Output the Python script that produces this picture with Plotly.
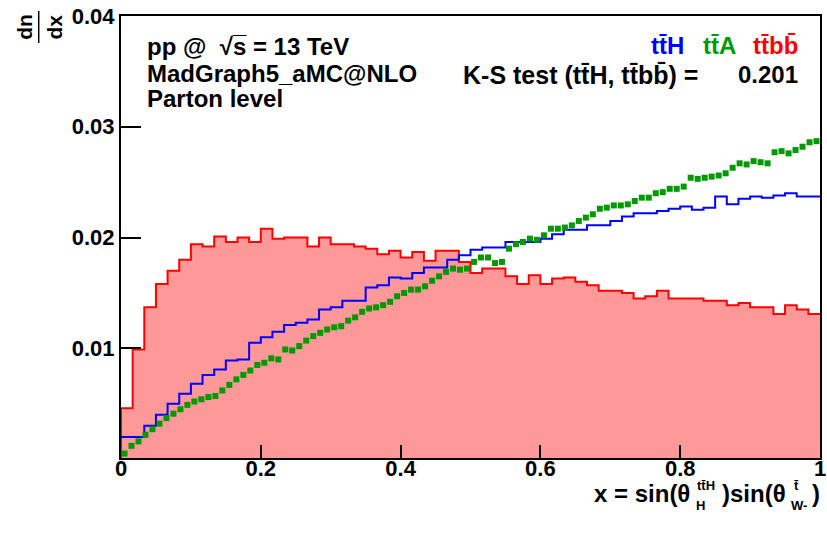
import numpy as np
import plotly.graph_objects as go

# ---------------- data ----------------
bin_edges = np.linspace(0.0, 1.0, 61)          # 60 bins for ttH / ttbb
ttbb = [0.0046, 0.0099, 0.0137, 0.0158, 0.0170, 0.0180, 0.0194, 0.0192, 0.0201, 0.0196,
        0.0200, 0.0196, 0.0208, 0.0199, 0.0200, 0.0200, 0.0192, 0.0200, 0.0194, 0.0194,
        0.0192, 0.0190, 0.0185, 0.0188, 0.0182, 0.0187, 0.0179, 0.0188, 0.0188, 0.0178,
        0.0168, 0.0172, 0.0172, 0.0165, 0.0158, 0.0166, 0.0158, 0.0163, 0.0164, 0.0160,
        0.0157, 0.0152, 0.0152, 0.0150, 0.0145, 0.0147, 0.0152, 0.0145, 0.0145, 0.0145,
        0.0143, 0.0143, 0.0139, 0.0141, 0.0137, 0.0137, 0.0131, 0.0139, 0.0135, 0.0131]
tth = [0.0020, 0.0020, 0.0030, 0.0040, 0.0050, 0.0059, 0.0068, 0.0076, 0.0081, 0.0089,
       0.0090, 0.0105, 0.0110, 0.0115, 0.0121, 0.0123, 0.0126, 0.0135, 0.0137, 0.0143,
       0.0143, 0.0155, 0.0157, 0.0164, 0.0163, 0.0168, 0.0173, 0.0173, 0.0180, 0.0184,
       0.0189, 0.0191, 0.0191, 0.0196, 0.0196, 0.0196, 0.0199, 0.0203, 0.0207, 0.0207,
       0.0211, 0.0211, 0.0215, 0.0219, 0.0222, 0.0222, 0.0224, 0.0226, 0.0228, 0.0225,
       0.0227, 0.0237, 0.0230, 0.0235, 0.0237, 0.0236, 0.0238, 0.0240, 0.0237, 0.0237]
tta_x = np.linspace(0.005, 0.995, 100)         # 100 bin centres for ttA
tta = [0.0005, 0.0012, 0.0016, 0.0022, 0.0027, 0.0032, 0.0037, 0.0041, 0.0045, 0.0049,
       0.0052, 0.0054, 0.0056, 0.0057, 0.0062, 0.0067, 0.0072, 0.0076, 0.0080, 0.0085,
       0.0087, 0.0091, 0.0090, 0.0099, 0.0098, 0.0102, 0.0107, 0.0111, 0.0114, 0.0117,
       0.0119, 0.0120, 0.0125, 0.0128, 0.0133, 0.0136, 0.0137, 0.0139, 0.0142, 0.0147,
       0.0150, 0.0153, 0.0153, 0.0156, 0.0161, 0.0165, 0.0169, 0.0172, 0.0171, 0.0172,
       0.0178, 0.0182, 0.0182, 0.0177, 0.0178, 0.0190, 0.0194, 0.0196, 0.0199, 0.0198,
       0.0202, 0.0208, 0.0208, 0.0209, 0.0211, 0.0215, 0.0218, 0.0221, 0.0226, 0.0227,
       0.0229, 0.0229, 0.0230, 0.0233, 0.0236, 0.0236, 0.0240, 0.0241, 0.0244, 0.0244,
       0.0246, 0.0254, 0.0253, 0.0254, 0.0255, 0.0256, 0.0258, 0.0263, 0.0267, 0.0266,
       0.0269, 0.0268, 0.0267, 0.0277, 0.0278, 0.0276, 0.0279, 0.0282, 0.0286, 0.0287]
x_tickvals = [0, 0.2, 0.4, 0.6, 0.8, 1.0]
x_ticktext = ["0", "0.2", "0.4", "0.6", "0.8", "1"]
y_tickvals = [0.01, 0.02, 0.03, 0.04]
y_ticktext = ["0.01", "0.02", "0.03", "0.04"]

# ---------------- style ----------------
W, H = 827, 536
L, R, T, B = 121, 1, 16, 78
FONT = "Liberation Sans"
RED, BLUE, GREEN = "rgb(255,0,0)", "rgb(0,0,255)", "rgb(0,153,0)"
FILL = "rgb(255,153,153)"
TB = "t" + "t\u0304"      # t tbar
BB = "b" + "b\u0304"      # b bbar

def px(xp, yp):
    return (xp - L) / (W - L - R), (H - B - yp) / (H - T - B)

fig = go.Figure()
fig.add_trace(go.Scatter(
    x=np.concatenate([[bin_edges[0]], bin_edges]),
    y=[0.0] + ttbb + [ttbb[-1]],
    mode="lines", line=dict(color=RED, width=2, shape="hv"),
    fill="tozeroy", fillcolor=FILL, hoverinfo="skip", showlegend=False))
fig.add_trace(go.Scatter(
    x=bin_edges, y=tth + [tth[-1]],
    mode="lines", line=dict(color=BLUE, width=2, shape="hv"),
    hoverinfo="skip", showlegend=False))
fig.add_trace(go.Scatter(
    x=tta_x, y=tta, mode="markers",
    marker=dict(symbol="square", size=6, color=GREEN, line=dict(width=0)),
    hoverinfo="skip", showlegend=False))

annots = []
def txt(s, xp, yp, size=24, color="black", xanchor="left", angle=0):
    ax, ay = px(xp, yp)
    annots.append(dict(text="<b>" + s + "</b>", x=ax, y=ay, xref="paper", yref="paper",
                       xanchor=xanchor, yanchor="middle", showarrow=False, textangle=angle,
                       borderpad=0, font=dict(family=FONT, size=size, color=color)))

txt("pp @  \u221As\u0305 = 13 TeV", 146, 47)
txt("MadGraph5_aMC@NLO", 146, 73)
txt("Parton level", 146, 98)
txt(TB + "H", 690, 46, color=BLUE, xanchor="right")
txt(TB + "A", 742, 46, color=GREEN, xanchor="right")
txt(TB + BB, 805, 46, color=RED, xanchor="right")
txt("K-S test (" + TB + "H, " + TB + BB + ") =", 465, 75, size=25)
txt("0.201", 805, 75, xanchor="right")

# y-axis title: rotated fraction dn/dx
txt("dn", 23, 27, size=21, xanchor="center", angle=-90)
txt("dx", 53, 27, size=21, xanchor="center", angle=-90)

# x-axis title pieces
txt("x = sin(\u03b8", 597, 493, size=24)
txt(TB + "H", 701, 485, size=13)
txt("H", 700, 505, size=13)
txt(")sin(\u03b8", 726, 493, size=24)
txt("t\u0304", 799, 485, size=13)
txt("W-", 796, 505, size=13)
txt(")", 817, 493, size=24)

shapes = [dict(type="line", xref="paper", yref="paper",
               x0=px(38, 0)[0], x1=px(38, 0)[0], y0=px(0, 11)[1], y1=px(0, 43)[1],
               line=dict(color="black", width=1.5))]

fig.update_layout(
    width=W, height=H, margin=dict(l=L, r=R, t=T, b=B, pad=0),
    paper_bgcolor="white", plot_bgcolor="white",
    annotations=annots, shapes=shapes,
    xaxis=dict(range=[0, 1], tickvals=x_tickvals, ticktext=x_ticktext,
               ticks="inside", ticklen=13, tickwidth=1.5, tickcolor="black",
               showline=True, linewidth=2, linecolor="black", mirror=True,
               showgrid=False, zeroline=False, ticklabelstandoff=-10,
               ticklabeloverflow="allow",
               tickfont=dict(family=FONT, size=22, color="black", weight="bold")),
    yaxis=dict(range=[0.0001, 0.04], tickvals=y_tickvals, ticktext=y_ticktext,
               ticks="inside", ticklen=20, tickwidth=1.5, tickcolor="black",
               showline=True, linewidth=2, linecolor="black", mirror=True,
               showgrid=False, zeroline=False,
               tickfont=dict(family=FONT, size=22, color="black", weight="bold")),
)
fig.write_html("out.html")
